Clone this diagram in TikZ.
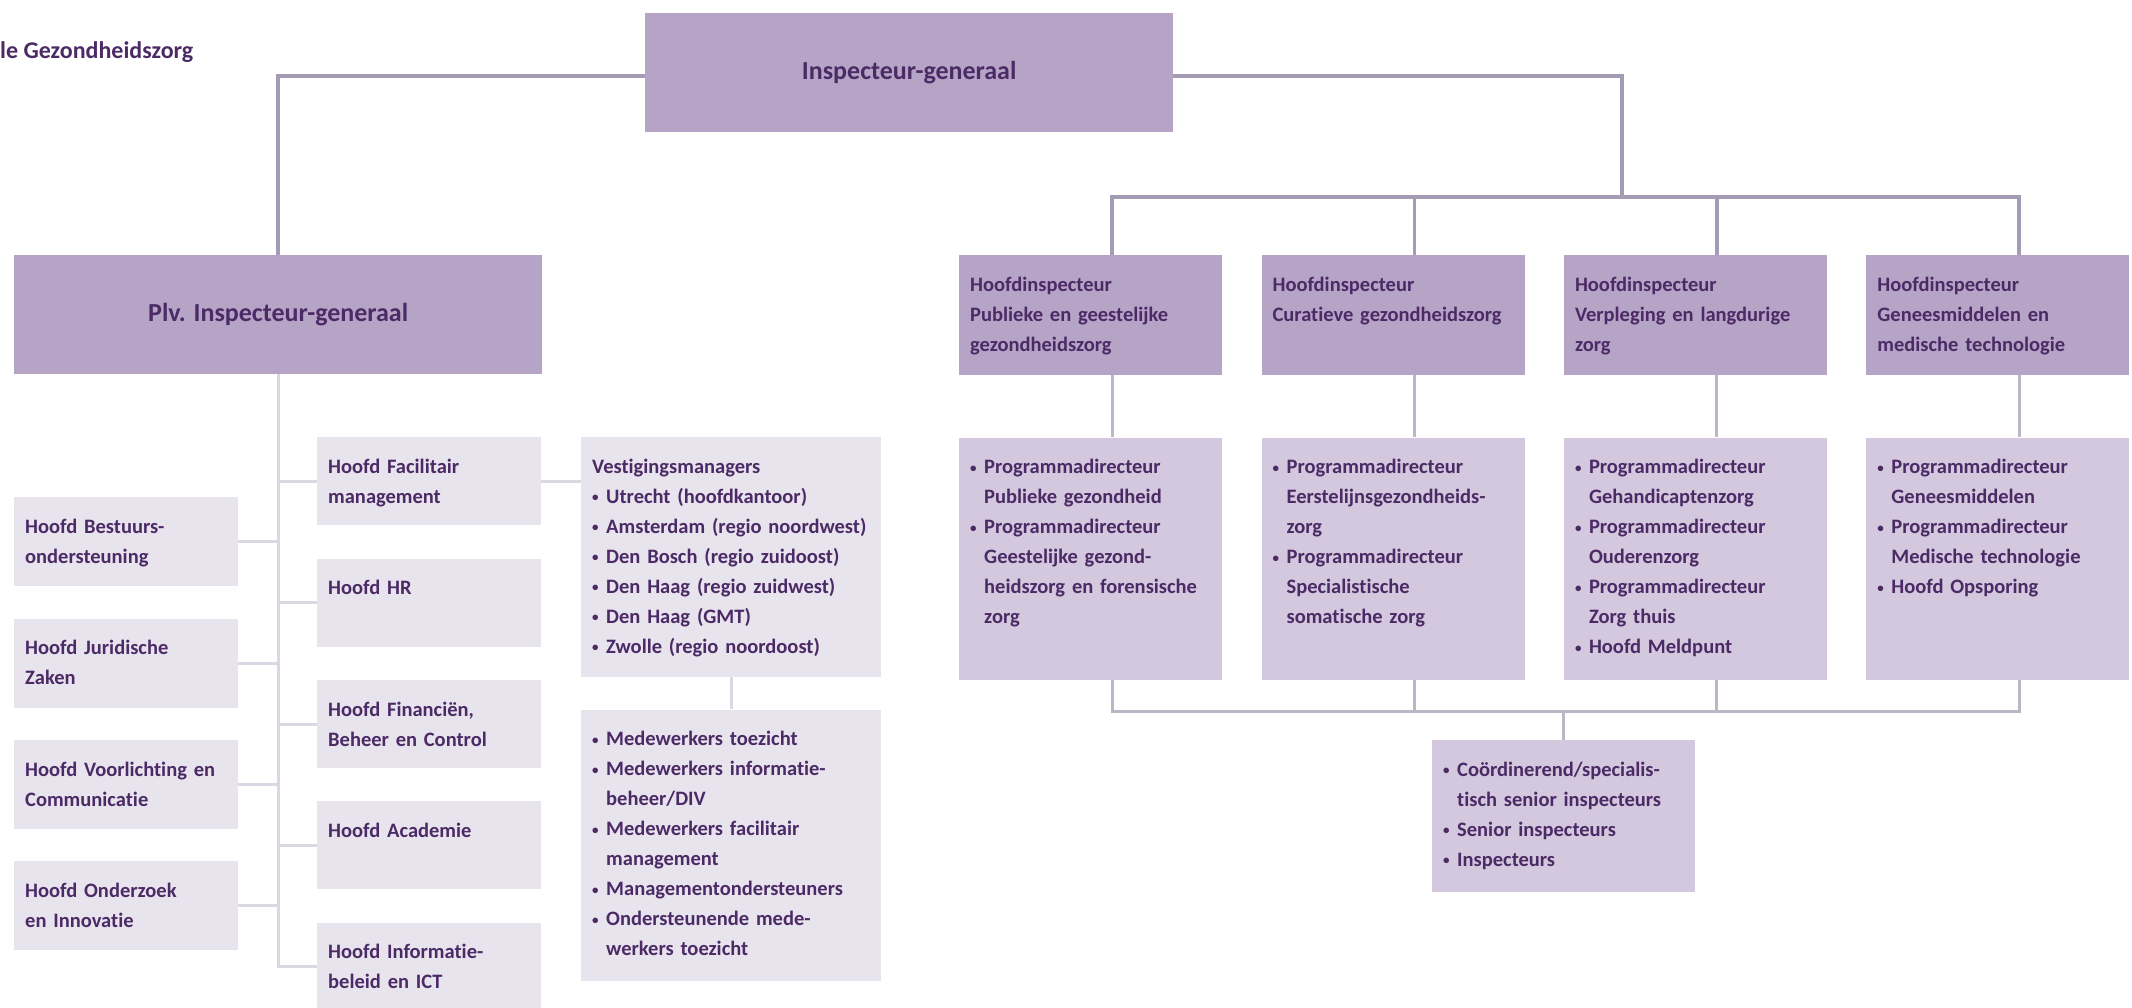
\documentclass[tikz,border=0pt]{standalone}
\usepackage{fontspec}
\setmainfont{Carlito}[Ligatures=NoCommon]
\usetikzlibrary{positioning,calc}

\definecolor{paarsdonker}{HTML}{B6A4C6}
\definecolor{paarsmidden}{HTML}{D3C8DD}
\definecolor{paarslicht}{HTML}{E8E4EE}
\definecolor{paarstekst}{HTML}{4B2A66}
\definecolor{lijngrijs}{HTML}{A49CB4}
\definecolor{lijnmidden}{HTML}{BCB6C6}
\definecolor{lijnlicht}{HTML}{DCD8E3}

\newcommand{\punt}{\makebox[14pt][l]{\raisebox{1.5pt}{\fontsize{13}{13}\selectfont\textbullet}}}
\newcommand{\verder}{\hspace*{14pt}}

\begin{document}
\begin{tikzpicture}[
  x=1pt, y=-1pt,
  node distance=39pt,
  blok/.style={anchor=north west, inner sep=0pt, minimum width=263pt},
  kop/.style={blok, fill=paarsdonker, text=paarstekst,
    font=\bfseries\fontsize{26}{30}\selectfont,
    minimum width=528pt, minimum height=119pt},
  hoofd/.style={blok, fill=paarsdonker, minimum height=120pt},
  prog/.style={blok, fill=paarsmidden, minimum height=242pt},
  staf/.style={blok, fill=paarslicht, minimum width=224pt, minimum height=88pt},
  tekst/.style={anchor=north west, text width=320pt, align=left,
    inner xsep=11pt, inner ysep=0pt, text height=36pt, text=paarstekst,
    font=\bfseries\fontsize{20.5}{30}\selectfont},
  lijn/.style={draw=lijngrijs, line width=3.5pt},
  lijnm/.style={draw=lijnmidden, line width=3pt},
  lijnl/.style={draw=lijnlicht, line width=3pt},
]
  \useasboundingbox (0,0) rectangle (2132,1007);

  \node[anchor=west, inner sep=0pt, text=paarstekst,
    font=\bfseries\fontsize{24}{28}\selectfont] (titel) at (0,52) {le Gezondheidszorg};
  \node[kop] (ig) at (645,13) {Inspecteur-generaal};
  \node[kop] (plv) at (14,255) {Plv. Inspecteur-generaal};

  % hoofdinspecteurs en programmadirecteuren
  \node[hoofd, label={[tekst]north west:{Hoofdinspecteur\\Publieke en geestelijke\\gezondheidszorg}}] (hi1) at (959,255) {};
  \node[hoofd, right=of hi1, label={[tekst]north west:{Hoofdinspecteur\\Curatieve gezondheidszorg}}] (hi2) {};
  \node[hoofd, right=of hi2, label={[tekst]north west:{Hoofdinspecteur\\Verpleging en langdurige\\zorg}}] (hi3) {};
  \node[hoofd, right=of hi3, label={[tekst]north west:{Hoofdinspecteur\\Geneesmiddelen en\\medische technologie}}] (hi4) {};

  \node[prog, below=62pt of hi1, label={[tekst]north west:{\punt Programmadirecteur\\\verder Publieke gezondheid\\\punt Programmadirecteur\\\verder Geestelijke gezond-\\\verder heidszorg en forensische\\\verder zorg}}] (pd1) {};
  \node[prog, below=62pt of hi2, label={[tekst]north west:{\punt Programmadirecteur\\\verder Eerstelijnsgezondheids-\\\verder zorg\\\punt Programmadirecteur\\\verder Specialistische\\\verder somatische zorg}}] (pd2) {};
  \node[prog, below=62pt of hi3, label={[tekst]north west:{\punt Programmadirecteur\\\verder Gehandicaptenzorg\\\punt Programmadirecteur\\\verder Ouderenzorg\\\punt Programmadirecteur\\\verder Zorg thuis\\\punt Hoofd Meldpunt}}] (pd3) {};
  \node[prog, below=62pt of hi4, label={[tekst]north west:{\punt Programmadirecteur\\\verder Geneesmiddelen\\\punt Programmadirecteur\\\verder Medische technologie\\\punt Hoofd Opsporing}}] (pd4) {};

  \node[blok, fill=paarsmidden, minimum height=152pt, label={[tekst]north west:{\punt Co\"ordinerend/specialis-\\\verder tisch senior inspecteurs\\\punt Senior inspecteurs\\\punt Inspecteurs}}] (senior) at (1432,740) {};

  % staf links
  \node[staf, minimum height=89pt, label={[tekst]north west:{Hoofd Bestuurs-\\ondersteuning}}] (bestuur) at (14,497) {};
  \node[staf, minimum height=89pt, below=32pt of bestuur, label={[tekst]north west:{Hoofd Juridische\\Zaken}}] (juridisch) {};
  \node[staf, minimum height=89pt, below=32pt of juridisch, label={[tekst]north west:{Hoofd Voorlichting en\\Communicatie}}] (voorlichting) {};
  \node[staf, minimum height=89pt, below=32pt of voorlichting, label={[tekst]north west:{Hoofd Onderzoek\\en Innovatie}}] (onderzoek) {};

  \node[staf, label={[tekst]north west:{Hoofd Facilitair\\management}}] (facilitair) at (317,437) {};
  \node[staf, below=33pt of facilitair, label={[tekst]north west:{Hoofd HR}}] (hr) {};
  \node[staf, below=33pt of hr, label={[tekst]north west:{Hoofd Financi\"en,\\Beheer en Control}}] (financien) {};
  \node[staf, below=33pt of financien, label={[tekst]north west:{Hoofd Academie}}] (academie) {};
  \node[staf, below=33pt of academie, label={[tekst]north west:{Hoofd Informatie-\\beleid en ICT}}] (ict) {};

  \node[blok, fill=paarslicht, minimum width=300pt, minimum height=240pt, label={[tekst]north west:{Vestigingsmanagers\\\punt Utrecht (hoofdkantoor)\\\punt Amsterdam (regio noordwest)\\\punt Den Bosch (regio zuidoost)\\\punt Den Haag (regio zuidwest)\\\punt Den Haag (GMT)\\\punt Zwolle (regio noordoost)}}] (vestiging) at (581,437) {};
  \node[blok, fill=paarslicht, minimum width=300pt, minimum height=271pt, below=32pt of vestiging, label={[tekst]north west:{\punt Medewerkers toezicht\\\punt Medewerkers informatie-\\\verder beheer/DIV\\\punt Medewerkers facilitair\\\verder management\\\punt Managementondersteuners\\\punt Ondersteunende mede-\\\verder werkers toezicht}}] (medewerkers) {};

  % verbindingen
  \draw[lijn] ([yshift=-3.5pt]ig.west) -| (plv.north);
  \coordinate (tak) at (1622,197);
  \coordinate (onder) at (1564,711);
  \foreach \i in {1,...,4}
    \coordinate (k\i) at ($(hi\i.north west)+(153,0)$);
  \draw[lijn] ([yshift=-3.5pt]ig.east) -| (tak);
  \draw[lijn] (k1) |- (k4 |- tak) -- (k4);
  \draw[lijn] (k2) -- (k2 |- tak);
  \draw[lijn] (k3) -- (k3 |- tak);
  \foreach \i in {1,...,4}
    \draw[lijnm] (k\i |- hi\i.south) -- (k\i |- pd\i.north);
  \draw[lijnm] (k1 |- pd1.south) |- (k4 |- onder) -- (k4 |- pd4.south);
  \draw[lijnm] (k2 |- pd2.south) -- (k2 |- onder);
  \draw[lijnm] (k3 |- pd3.south) -- (k3 |- onder);
  \draw[lijnm] (senior.north |- onder) -- (senior.north);

  \draw[lijnl] (plv.south) |- (ict.west);
  \foreach \n in {bestuur,juridisch,voorlichting,onderzoek}
    \draw[lijnl] (\n.east) -- (plv.south |- \n.east);
  \foreach \n in {facilitair,hr,financien,academie}
    \draw[lijnl] (plv.south |- \n.west) -- (\n.west);
  \draw[lijnl] (facilitair.east) -- (vestiging.west |- facilitair.east);
  \draw[lijnl] (vestiging.south) -- (medewerkers.north);
\end{tikzpicture}
\end{document}
